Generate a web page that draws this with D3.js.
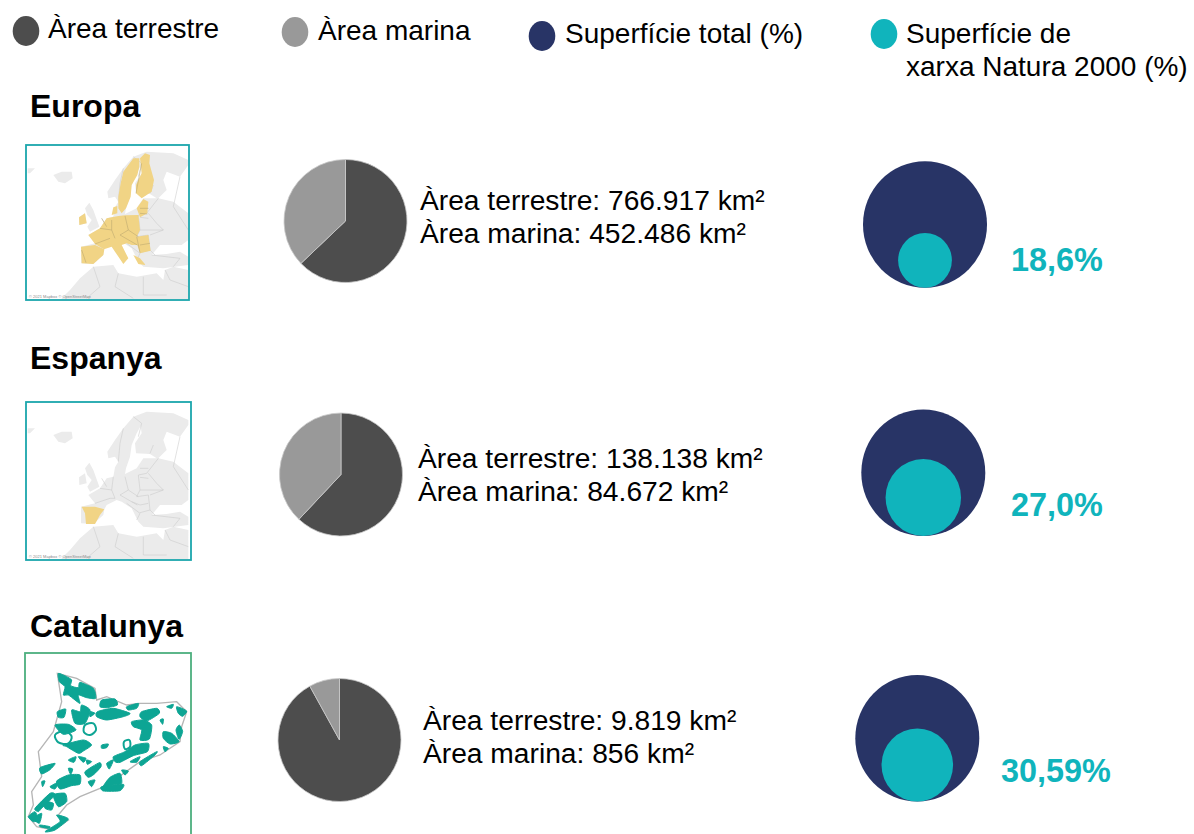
<!DOCTYPE html>
<html>
<head>
<meta charset="utf-8">
<script src="https://cdn.jsdelivr.net/npm/d3@7"></script>
<style>
  html, body { margin: 0; padding: 0; background: #fff; }
  text { font-family: "Liberation Sans", Arial, sans-serif; fill: #000; }
</style>
</head>
<body>
<div id="chart"></div>
<script>
// data
const regions = ["Europa", "Espanya", "Catalunya"];
const areaTerrestre = [766917, 138138, 9819];
const areaMarina = [452486, 84672, 856];
const terrestreLabels = ["766.917", "138.138", "9.819"];
const marinaLabels = ["452.486", "84.672", "856"];
const naturaLabels = ["18,6%", "27,0%", "30,59%"];
// share of the big circle's area as it is drawn (the picture is not exact to the labels)
const naturaDrawn = [18.8, 37, 33.3];
const legendLabels = ["Àrea terrestre", "Àrea marina", "Superfície total (%)", "Superfície de"];
const legendLabel2 = "xarxa Natura 2000 (%)";

// colours
const cDark = "#4d4d4d", cGrey = "#999999", cNavy = "#283466", cTeal = "#10b4bc";
const cMapGrey = "#ebebeb", cEu = "#f1d485", cGreen = "#0fa594";

// layout of each row
const rows = [
  { titleY: 117, frame: [26, 145, 163, 155], frameColor: "#1ba6ac", mapY: 130, pieX: 345.5, pieY: 221, txtX: 420, txtY: 210, cX: 925, cY: 224.5, pctX: 1011, pctY: 271 },
  { titleY: 369, frame: [26, 402, 165, 158], frameColor: "#1ba6ac", mapY: 390, pieX: 341, pieY: 474.5, txtX: 418, txtY: 468, cX: 923.3, cY: 472.7, pctX: 1011, pctY: 516 },
  { titleY: 637, frame: [25, 653, 166, 190], frameColor: "#4caf7e", mapY: 645, pieX: 339.5, pieY: 740, txtX: 423, txtY: 730, cX: 917.3, cY: 738.3, pctX: 1001, pctY: 782 }
];
const legendPos = [
  { cx: 26, cy: 31, tx: 48, ty: 38, c: cDark },
  { cx: 295, cy: 32, tx: 318, ty: 40, c: cGrey },
  { cx: 542, cy: 36, tx: 565, ty: 43, c: cNavy },
  { cx: 884, cy: 34, tx: 906, ty: 43, c: cTeal }
];

// map outlines, in the 3x space of the thumbnails
const baseLand = [
  [[160,135],[185,125],[215,125],[218,145],[195,160],[175,155]],
  [[83,115],[105,115],[90,130],[83,130]],
  [[255,235],[268,218],[280,240],[298,290],[270,305],[262,290],[275,270],[262,255]],
  [[237,262],[255,250],[260,280],[238,285]],
  [[322,185],[345,150],[370,115],[400,80],[440,65],[520,70],[565,90],[565,105],[540,140],[500,125],[490,150],[500,180],[475,205],[520,215],[565,250],[565,330],[545,345],[480,345],[455,375],[500,372],[540,365],[565,380],[565,405],[490,415],[430,410],[415,395],[395,355],[365,335],[350,330],[320,345],[313,358],[310,375],[280,402],[243,400],[243,350],[285,340],[265,315],[300,295],[320,265],[340,260],[345,232],[355,215],[345,200],[325,205]],
  [[185,505],[210,480],[240,445],[280,410],[340,405],[355,430],[410,440],[470,430],[490,450],[495,420],[520,410],[565,420],[565,507],[185,507]]
];
const baseSeas = [
  [[408,190],[405,160],[425,130],[422,108],[410,130],[395,165],[390,200],[378,235],[375,252],[410,235],[430,205],[470,205],[450,192]]
];
const baseBorders = [
  [[370,115],[360,160],[355,215]], [[400,80],[425,100],[415,140]], [[460,165],[450,190]],
  [[340,260],[335,300],[345,325]], [[375,260],[385,300],[360,315]], [[415,255],[420,300],[410,320]],
  [[285,340],[330,325],[345,325]], [[300,295],[335,300]], [[445,250],[470,280],[490,300],[450,315]],
  [[410,320],[445,315],[450,360]], [[380,340],[420,370],[410,390]], [[280,410],[300,470],[260,505]],
  [[355,430],[345,470],[400,505]], [[430,440],[430,495],[500,495]], [[495,420],[510,450],[565,470]],
  [[415,255],[440,250],[475,205]], [[455,375],[540,385],[520,410]], [[540,140],[520,230],[565,300]],
  [[385,300],[415,320]], [[360,315],[412,345]], [[305,265],[320,290]], [[420,235],[445,235]],
  [[420,262],[445,265]], [[420,300],[490,300]], [[395,335],[420,345],[445,340]], [[420,368],[450,360],[465,375]]
];
const euLand = [
  [[400,85],[418,85],[418,110],[412,135],[395,165],[392,200],[378,235],[365,250],[355,235],[355,200],[362,160],[370,125]],
  [[435,70],[450,75],[448,100],[462,150],[455,185],[425,205],[408,190],[408,165],[425,130],[422,100],[420,85]],
  [[237,262],[255,250],[260,280],[238,285]],
  [[335,255],[340,232],[352,228],[352,250]],
  [[410,235],[430,207],[445,215],[442,250],[420,262]],
  [[265,315],[300,295],[320,265],[355,258],[375,256],[415,255],[420,300],[410,320],[445,315],[452,362],[420,370],[412,345],[395,345],[380,340],[365,345],[385,385],[370,402],[345,365],[335,350],[312,358],[285,342]],
  [[243,350],[285,345],[313,358],[310,375],[280,402],[245,400]],
  [[400,375],[420,385],[437,405],[415,402]]
];
const euBorders = [
  [[335,270],[335,300],[345,325]], [[375,258],[385,300],[360,315]], [[285,342],[330,325]],
  [[300,295],[335,300]], [[385,300],[415,320]], [[360,315],[412,345]], [[305,265],[320,290]],
  [[408,190],[425,100]], [[245,360],[258,398]], [[420,235],[445,235]], [[420,250],[442,252]],
  [[410,320],[420,368]], [[420,345],[450,340]]
];
const spain = [[245,350],[285,350],[313,358],[300,375],[285,402],[258,402],[255,370]];
const catOutline = [
  [172,85],[230,100],[285,130],[290,165],[320,155],[380,180],[420,175],[470,175],[530,170],[560,200],
  [545,245],[540,290],[480,330],[420,350],[350,400],[300,430],[240,455],[200,480],[175,510],[205,525],
  [160,555],[110,545],[85,515],[100,480],[95,440],[125,395],[115,320],[160,260],[185,170]
];
const catBlobs = [
  [[175,85],[200,95],[215,105],[212,122],[235,128],[240,112],[280,130],[287,160],[260,158],[235,150],[240,175],[225,165],[205,150],[190,150],[195,125],[178,110]],
  [[305,165],[345,162],[352,180],[320,188],[300,185]],
  [[380,185],[415,175],[410,190],[385,195]],
  [[292,200],[340,190],[390,205],[370,215],[320,225],[290,215]],
  [[425,200],[470,190],[478,205],[440,228],[420,215]],
  [[395,230],[430,225],[455,240],[448,282],[420,285],[425,255],[400,245]],
  [[530,185],[560,198],[548,214],[535,205]],
  [[490,260],[515,265],[537,290],[510,297],[490,280]],
  [[165,240],[205,238],[228,255],[190,268]],
  [[215,195],[240,200],[245,180],[270,195],[255,235],[225,235]],
  [[172,200],[197,192],[192,217],[175,217]],
  [[190,300],[250,285],[275,300],[250,318],[235,325],[200,305]],
  [[340,335],[375,320],[405,300],[445,295],[442,320],[400,332],[360,352],[345,350]],
  [[305,300],[325,297],[320,308],[305,310]],
  [[205,345],[228,335],[222,352]],
  [[235,335],[258,340],[250,352]],
  [[120,368],[165,355],[150,374],[125,387]],
  [[255,380],[298,353],[303,365],[282,388],[265,397]],
  [[170,408],[205,390],[240,390],[240,417],[215,422],[180,432]],
  [[150,425],[175,412],[165,432]],
  [[330,397],[360,385],[365,415],[340,420],[310,425]],
  [[305,425],[370,418],[360,437],[310,438]],
  [[105,490],[150,445],[165,450],[125,490],[115,500]],
  [[135,470],[160,475],[155,495],[135,490]],
  [[160,450],[195,445],[200,470],[175,485]],
  [[85,515],[105,500],[115,525],[100,530]],
  [[170,510],[205,522],[165,555],[135,560],[180,530]],
  [[120,540],[150,545],[145,550],[120,545]],
  [[365,375],[385,378],[375,390]],
  [[538,240],[548,260],[537,283],[528,255]],
  [[265,410],[285,405],[275,425]],
  [[420,350],[470,320],[465,330],[425,362]],
  [[270,200],[285,205],[270,215]],
  [[205,370],[218,372],[212,388]],
  [[490,305],[505,310],[495,320]],
  [[125,410],[135,408],[128,425]],
  [[260,345],[275,350],[262,358]],
  [[320,355],[340,345],[328,372]],
  [[390,350],[420,335],[410,352]],
  [[100,520],[125,505],[118,535]],
  [[500,185],[520,178],[515,190]],
  [[480,225],[490,222],[488,238]]
];
const catRings = [
  [[255,240],[280,235],[288,255],[270,270],[252,262]],
  [[165,270],[195,258],[215,275],[205,295],[175,292]],
  [[372,290],[388,285],[390,305],[375,312]]
];

const svg = d3.select("#chart").append("svg")
  .attr("width", 1194).attr("height", 834)
  .style("display", "block");

svg.append("defs").append("filter").attr("id", "soft")
  .append("feGaussianBlur").attr("stdDeviation", 2);

//////////
// LEGEND //
//////////
legendPos.forEach(function (d, i) {
  svg.append("ellipse").attr("cx", d.cx).attr("cy", d.cy)
    .attr("rx", 13.3).attr("ry", 15).attr("fill", d.c);
  svg.append("text").attr("x", d.tx).attr("y", d.ty)
    .attr("font-size", 28).text(legendLabels[i]);
});
svg.append("text").attr("x", 906).attr("y", 76).attr("font-size", 28).text(legendLabel2);

//////////
// MAPS //
//////////
const closed = d3.line().curve(d3.curveLinearClosed);
const smooth = d3.line().curve(d3.curveCatmullRomClosed);
const blobby = d3.line().curve(d3.curveCardinalClosed.tension(0.35));
const open = d3.line();

function drawBaseMap(g) {
  g.selectAll("path.land").data(baseLand).join("path").attr("class", "land")
    .attr("d", closed).attr("fill", cMapGrey);
  g.selectAll("path.sea").data(baseSeas).join("path").attr("class", "sea")
    .attr("d", closed).attr("fill", "#fff");
  g.selectAll("path.bord").data(baseBorders).join("path").attr("class", "bord")
    .attr("d", open).attr("fill", "none").attr("stroke", "#c9c9c9").attr("stroke-width", 1.6);
}

rows.forEach(function (r, i) {
  const clipId = "frame" + i;
  svg.select("defs").append("clipPath").attr("id", clipId)
    .append("rect").attr("x", r.frame[0]).attr("y", r.frame[1])
    .attr("width", r.frame[2]).attr("height", r.frame[3]);

  const holder = svg.append("g").attr("clip-path", `url(#${clipId})`);
  const map = holder.append("g")
    .attr("transform", `translate(0, ${r.mapY}) scale(${1 / 3})`)
    .attr("filter", "url(#soft)");

  if (i === 0) {
    drawBaseMap(map);
    map.selectAll("path.eu").data(euLand).join("path").attr("class", "eu")
      .attr("d", closed).attr("fill", cEu);
    map.selectAll("path.eub").data(euBorders).join("path").attr("class", "eub")
      .attr("d", open).attr("fill", "none").attr("stroke", "#b8a46e").attr("stroke-width", 1.6);
  } else if (i === 1) {
    drawBaseMap(map);
    map.append("path").attr("d", closed(spain)).attr("fill", cEu);
  } else {
    map.append("path").attr("d", closed(catOutline))
      .attr("fill", "#fff").attr("stroke", "#b5b5b5").attr("stroke-width", 4);
    map.selectAll("path.blob").data(catBlobs).join("path").attr("class", "blob")
      .attr("d", blobby).attr("fill", cGreen)
      .attr("stroke", cGreen).attr("stroke-width", 3);
    map.selectAll("path.ring").data(catRings).join("path").attr("class", "ring")
      .attr("d", smooth).attr("fill", "none").attr("stroke", cGreen).attr("stroke-width", 6);
  }

  if (i < 2) {
    holder.append("text").attr("x", r.frame[0] + 3).attr("y", r.frame[1] + r.frame[3] - 2)
      .attr("font-size", 4).style("fill", "#8a8a8a").text("© 2021 Mapbox © OpenStreetMap");
  }

  svg.append("rect").attr("x", r.frame[0]).attr("y", r.frame[1])
    .attr("width", r.frame[2]).attr("height", r.frame[3])
    .attr("fill", "none").attr("stroke", r.frameColor).attr("stroke-width", 1.8);

  svg.append("text").attr("x", 30).attr("y", r.titleY)
    .attr("font-size", 32).attr("font-weight", "bold").text(regions[i]);
});

//////////
// PIES //
//////////
const pie = d3.pie().sort(null);
const arc = d3.arc().innerRadius(0).outerRadius(61.5);
const pieColor = d3.scaleOrdinal().domain([0, 1]).range([cDark, cGrey]);

rows.forEach(function (r, i) {
  const g = svg.append("g").attr("transform", `translate(${r.pieX}, ${r.pieY})`);
  g.selectAll("path").data(pie([areaTerrestre[i], areaMarina[i]])).join("path")
    .attr("d", arc)
    .attr("fill", function (d) { return pieColor(d.index); })
    .attr("stroke", "#c9c9c9").attr("stroke-width", 0.8);

  svg.append("text").attr("x", r.txtX).attr("y", r.txtY).attr("font-size", 28.2)
    .text(`Àrea terrestre: ${terrestreLabels[i]} km²`);
  svg.append("text").attr("x", r.txtX).attr("y", r.txtY + 33).attr("font-size", 28.2)
    .text(`Àrea marina: ${marinaLabels[i]} km²`);
});

//////////
// NESTED CIRCLES //
//////////
const rScale = d3.scaleSqrt().domain([0, 100]).range([0, 62]);
const squash = 1.02; // the pasted circles are a little taller than wide

rows.forEach(function (r, i) {
  const big = rScale(100), small = rScale(naturaDrawn[i]);
  svg.append("ellipse").attr("cx", r.cX).attr("cy", r.cY)
    .attr("rx", big).attr("ry", big * squash).attr("fill", cNavy);
  svg.append("ellipse").attr("cx", r.cX).attr("cy", r.cY + (big - small) * squash)
    .attr("rx", small).attr("ry", small * squash).attr("fill", cTeal);
  svg.append("text").attr("x", r.pctX).attr("y", r.pctY)
    .attr("font-size", 32.4).attr("font-weight", "bold").style("fill", cTeal)
    .text(naturaLabels[i]);
});
</script>
</body>
</html>
